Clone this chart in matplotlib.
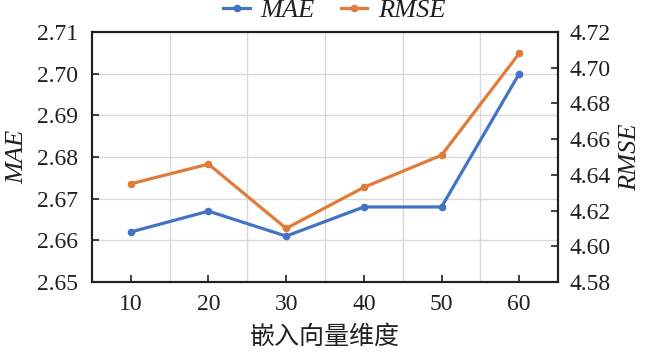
import matplotlib
matplotlib.use("Agg")
import matplotlib.pyplot as plt
import numpy as np

dims = ["10", "20", "30", "40", "50", "60"]
mae = [2.662, 2.667, 2.661, 2.668, 2.668, 2.700]
rmse = [4.635, 4.646, 4.610, 4.633, 4.651, 4.708]
left_ticks = [2.65, 2.66, 2.67, 2.68, 2.69, 2.70, 2.71]
right_ticks = [4.58, 4.60, 4.62, 4.64, 4.66, 4.68, 4.70, 4.72]

plt.rcParams['font.family'] = ['Liberation Serif', 'Noto Sans CJK SC']

blue = '#4472C4'
orange = '#E07B39'
ink = '#231f20'

fig = plt.figure(figsize=(6.5, 3.56), dpi=100)
ax = fig.add_axes([0.1415, 0.208, 0.717, 0.702])
ax2 = ax.twinx()

x = np.arange(len(dims))
l1, = ax.plot(x, mae, color=blue, lw=2.3, marker='o', ms=4.5, label='MAE')
l2, = ax2.plot(x, rmse, color=orange, lw=2.3, marker='o', ms=4.5, label='RMSE')

ax.set_xlim(-0.5, 5.5)
ax.set_ylim(2.65, 2.71)
ax2.set_ylim(4.58, 4.72)
ax.set_yticks(left_ticks)
ax.set_yticklabels([f"{v:.2f}" for v in left_ticks])
ax2.set_yticks(right_ticks)
ax2.set_yticklabels([f"{v:.2f}" for v in right_ticks])
ax.set_xticks(x)
ax.set_xticklabels(dims)
ax.set_xticks(np.arange(0.5, 5.0, 1.0), minor=True)

ax.grid(True, axis='y', which='major', color='#d9d9d9', lw=1)
ax.grid(True, axis='x', which='minor', color='#d9d9d9', lw=1)
ax.set_axisbelow(True)

ax.tick_params(axis='both', which='major', direction='in', labelsize=17, length=5, width=1.2, color=ink, labelcolor=ink)
ax.tick_params(axis='y', pad=10)
ax.tick_params(axis='x', which='minor', length=0)
ax.tick_params(axis='x', pad=9)
ax2.tick_params(axis='y', direction='in', labelsize=17, length=5, width=1.2, color=ink, labelcolor=ink, pad=8)

for a in (ax, ax2):
    for s in a.spines.values():
        s.set_linewidth(1.5)
        s.set_color(ink)

ax.set_ylabel('MAE', fontsize=19, style='italic', color=ink, labelpad=6)
ax2.set_ylabel('RMSE', fontsize=19, style='italic', color=ink, labelpad=6)
ax.set_xlabel('嵌入向量维度', fontsize=18, color=ink, family=['Noto Sans CJK SC'], labelpad=6)

leg = fig.legend([l1, l2], ['MAE', 'RMSE'], loc='upper center', bbox_to_anchor=(0.5146, 1.07),
                 ncol=2, frameon=False, prop={'size': 19, 'style': 'italic', 'family': 'Liberation Serif'},
                 handlelength=1.0, columnspacing=1.0, handletextpad=0.4)
for t in leg.get_texts():
    t.set_color(ink)

fig.savefig('out.png', dpi=100)
